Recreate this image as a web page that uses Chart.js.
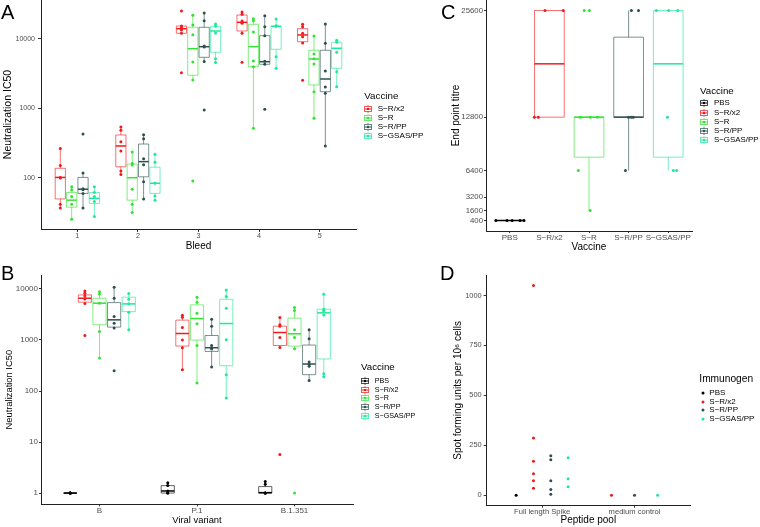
<!DOCTYPE html>
<html>
<head>
<meta charset="utf-8">
<script src="https://cdn.jsdelivr.net/npm/chart.js@4.4.1/dist/chart.umd.min.js"></script>
<style>
  body { margin: 0; width: 760px; height: 527px; background: #fff; position: relative; overflow: hidden;
         font-family: "Liberation Sans", Arial, sans-serif; }
  canvas { position: absolute; }
  .txt { position: absolute; white-space: nowrap; }
  .key { position: absolute; width: 8px; height: 8px; line-height: 0; }
  .key svg { display: block; }
</style>
</head>
<body>
<script>
// ============================================================
// Neutralisation / titres / ELISpot — 4 panneaux (A, B, C, D)
// ============================================================

// ---- Panel A : IC50 par prélèvement
const bleeds = ['1', '2', '3', '4', '5'];
const vaccinesA = ['S−R/x2', 'S−R', 'S−R/PP', 'S−GSAS/PP'];
// boîtes : [min, q1, médiane, q3, max] pour chaque bleed
const boxA_Rx2 = [[37, 50, 102, 138, 265], [112, 145, 289, 416, 542], [12080, 12080, 14070, 15380, 15380], [12080, 13040, 17380, 22130, 24460], [8760, 9140, 11420, 14070, 16270]];
const ptsA_Rx2 = [[265, 151, 102, 100, 42, 37], [542, 485, 333, 244, 126, 112], [25300, 15380, 14500, 13500, 12100, 3275], [24460, 22650, 18160, 16820, 12080, 4620], [16270, 15030, 12080, 10790, 8760, 2545]];
const boxA_R = [[25.5, 38, 48, 62, 75], [32, 48, 101, 159, 237], [2570, 3005, 7250, 14740, 21900], [519, 3995, 7750, 16270, 19600], [723, 2180, 5150, 6880, 11040]];
const ptsA_R = [[75, 68, 54, 42, 25.5], [237, 162, 154, 69, 42, 32], [21900, 15900, 11530, 4670, 2570, 90.6], [19600, 18330, 12610, 4830, 3995, 519], [11040, 6080, 5200, 4370, 1746, 723]];
const boxA_RPP = [[36.6, 60, 69, 102, 118], [50, 104, 172, 308, 420], [4750, 5450, 7750, 14740, 23650], [4325, 4325, 4712, 11160, 21640], [288, 1746, 2657, 6880, 16440]];
const ptsA_RPP = [[430, 118, 70, 68, 60, 37], [420, 367, 190, 155, 88, 50], [23650, 18330, 7900, 7700, 4750, 951], [21640, 15030, 11160, 4800, 4330, 974], [16440, 8670, 3464, 2039, 1655, 288]];
const boxA_GPP = [[27.7, 43, 51, 62, 75], [48, 60, 84, 143, 219], [4590, 6440, 13040, 15230, 16440], [3790, 7110, 15230, 15230, 19400], [2060, 3790, 7350, 8960, 9580]];
const ptsA_GPP = [[75, 62, 54, 46, 28], [219, 168, 84, 55, 48], [16440, 15230, 12200, 5210, 4590], [19400, 15500, 15230, 5560, 3790], [9580, 9000, 6440, 3385, 2060]];
const ticksA = [100, 1000, 10000];

// ---- Panel B : IC50 par variant
const variants = ['B', 'P.1', 'B.1.351'];
const vaccinesB = ['PBS', 'S−R/x2', 'S−R', 'S−R/PP', 'S−GSAS/PP'];
const boxB_PBS = [[1, 1, 1, 1, 1], [1, 1, 1.1, 1.4, 1.6], [1, 1, 1.02, 1.34, 1.68]];
const ptsB_PBS = [[1, 1, 1, 1, 1], [1.6, 1.4, 1.1, 1, 1], [1.68, 1.49, 1, 1, 1]];
const boxB_Rx2 = [[5160, 5500, 6580, 7640, 9140], [262, 760, 1339, 2449, 3064], [714, 781, 1401, 1868, 2750]];
const ptsB_Rx2 = [[9140, 8240, 7300, 6380, 5160, 1224], [3064, 2800, 1755, 995, 705, 262], [2750, 1981, 1868, 1119, 714, 5.7]];
const boxB_R = [[443, 1981, 5260, 6580, 8850], [144, 995, 2630, 4870, 6890], [673, 760, 1322, 2680, 4315]];
const ptsB_R = [[8850, 7990, 5260, 1466, 443], [6890, 5500, 3350, 2072, 781, 144], [4315, 3770, 1584, 1119, 673, 1]];
const boxB_RPP = [[1710, 1786, 2480, 5400, 10790], [296, 596, 705, 1224, 2560], [160, 209, 338, 795, 1584]];
const ptsB_RPP = [[10790, 6580, 2877, 2138, 1710, 250], [2560, 1868, 781, 705, 663, 296], [1584, 1055, 370, 330, 304, 160]];
const boxB_GPP = [[1584, 3600, 5090, 6890, 8094], [73, 313, 2100, 6290, 9560], [191, 424, 3400, 4014, 7880]];
const ptsB_GPP = [[8100, 6300, 5100, 3500, 1580], [9560, 7080, 4200, 1009, 209, 73], [7880, 4014, 3720, 3100, 219, 191]];
const ticksB = [1, 10, 100, 1000, 10000];

// ---- Panel C : titre en point final
const vaccinesC = ['PBS', 'S−R/x2', 'S−R', 'S−R/PP', 'S−GSAS/PP'];
const ticksC = [400, 1600, 3200, 6400, 12800, 25600];
const boxC = [[400, 400, 400, 400, 400], [12800, 12800, 19200, 25600, 25600], [1600, 8000, 12800, 12800, 12800], [6400, 12800, 12800, 22400, 25600], [6400, 8000, 19200, 25600, 25600]];
const ptsC = [[400, 400, 400, 400, 400], [25600, 25600, 12800, 12800], [25600, 25600, 12800, 12800, 12800, 6400, 1600], [25600, 25600, 12800, 12800, 12800, 6400], [25600, 25600, 25600, 12800, 6400, 6400]];
// décalage horizontal (jitter) des points, en unités de catégorie
const jitterC = [[-0.35, -0.07, 0.06, 0.26, 0.36], [-0.11, 0.35, -0.38, -0.28], [-0.12, 0.01, -0.22, 0.03, 0.21, -0.27, 0.03], [0.07, 0.25, 0, 0.07, 0.12, -0.08], [-0.3, 0.01, 0.24, -0.02, 0.13, 0.21]];

// ---- Panel D : ELISpot
const pools = ['Full length Spike', 'medium control'];
const immunogens = ['PBS', 'S−R/x2', 'S−R/PP', 'S−GSAS/PP'];
const sfuPBS = [[0], []];
const sfuRx2 = [[1050, 287, 170, 107, 73, 35], [0]];
const sfuRPP = [[197, 178, 73, 28, 5], [0]];
const sfuGPP = [[188, 82, 42], [0]];
const ticksD = [0, 250, 500, 750, 1000];

// ------------------------------------------------------------
const COL = {
  'PBS': '#000000',
  'S−R/x2': '#f01a1c',
  'S−R': '#33e333',
  'S−R/PP': '#2f4f4f',
  'S−GSAS/PP': '#1ee89a',
};
const TXT = '#4d4d4d';
Chart.defaults.font.family = '"Liberation Sans", Arial, sans-serif';

const rgba = (hex, a) => {
  const n = parseInt(hex.slice(1), 16);
  return `rgba(${n >> 16},${(n >> 8) & 255},${n & 255},${a})`;
};

// boîtes à moustaches dessinées via les échelles du graphique
const boxPlugin = {
  id: 'boxes',
  beforeDatasetsDraw(chart) {
    const { ctx, scales: { x, y } } = chart;
    ctx.save();
    for (const ds of chart.data.datasets) {
      for (const b of ds.boxes || []) {
        const [lo, q1, md, q3, hi] = b.s.map(v => y.getPixelForValue(v));
        const cx = x.getPixelForValue(b.x);
        const hw = x.getPixelForValue(b.x + b.w / 2) - cx;
        ctx.strokeStyle = ds.boxLine;
        ctx.lineWidth = 1;
        ctx.beginPath();
        ctx.moveTo(cx, q3); ctx.lineTo(cx, hi);
        ctx.moveTo(cx, q1); ctx.lineTo(cx, lo);
        ctx.rect(cx - hw, q3, 2 * hw, q1 - q3);
        ctx.stroke();
        ctx.strokeStyle = ds.backgroundColor;
        ctx.lineWidth = 1.5;
        ctx.beginPath();
        ctx.moveTo(cx - hw, md); ctx.lineTo(cx + hw, md);
        ctx.stroke();
      }
    }
    ctx.restore();
  },
};

function catAxis(labels, min, max, o) {
  return {
    type: 'linear', min, max,
    afterBuildTicks: s => { s.ticks = labels.map((_, i) => ({ value: i + 1 })); },
    afterFit: s => { s.height = o.h; },
    ticks: { callback: v => labels[v - 1], autoSkip: false, maxRotation: 0, padding: o.pad, font: { size: o.fs }, color: TXT },
    grid: { drawOnChartArea: false, tickLength: o.tl, color: '#333' },
    border: { color: '#222', width: 1 },
    title: { display: true, text: o.title, color: '#000', font: { size: o.tfs }, padding: 0 },
  };
}

function valAxis(type, min, max, ticks, o) {
  return {
    type, min, max,
    afterBuildTicks: s => { s.ticks = ticks.map(v => ({ value: v })); },
    afterFit: s => { s.width = o.w; },
    ticks: { callback: v => String(v), padding: o.pad, font: { size: o.fs }, color: TXT },
    grid: { drawOnChartArea: false, tickLength: o.tl, color: '#333' },
    border: { color: '#222', width: 1 },
    title: { display: true, text: o.title, color: '#000', font: { size: o.tfs }, padding: 0 },
  };
}

// un canvas par panneau, placé pour que la zone de tracé tombe sur `area`
function panel(area, yW, xH, scales, datasets) {
  const left = Math.floor(area.l - yW - 2), top = Math.floor(area.t - 10);
  const padding = { left: area.l - yW - left, top: area.t - top, right: 10, bottom: 2 };
  const cv = document.createElement('canvas');
  cv.width = Math.ceil(area.r + 10 - left);
  cv.height = Math.ceil(area.b + xH + 2 - top);
  cv.style.left = left + 'px';
  cv.style.top = top + 'px';
  document.body.appendChild(cv);
  return new Chart(cv, {
    type: 'scatter',
    data: { datasets },
    options: {
      responsive: false, animation: false, devicePixelRatio: 1,
      layout: { padding },
      plugins: { legend: { display: false }, tooltip: { enabled: false } },
      scales,
    },
    plugins: [boxPlugin],
  });
}

function pointSet(name, data, boxes) {
  const col = COL[name];
  return { label: name, data, boxes, backgroundColor: col, boxLine: rgba(col, 0.62),
           pointRadius: 1.5, pointBorderWidth: 0, pointHoverRadius: 1.5 };
}

// groupes décalés (position_dodge) avec boîtes
function dodgedSets(groups) {
  const n = groups.length, dw = 0.75 / n;
  return groups.map((g, k) => {
    const off = (k - (n - 1) / 2) * dw;
    const data = [], boxes = [];
    g.pts.forEach((vals, i) => vals.forEach(v => data.push({ x: i + 1 + off, y: v })));
    g.box.forEach((s, i) => boxes.push({ x: i + 1 + off, w: dw * 0.9, s }));
    return pointSet(g.name, data, boxes);
  });
}

// ---- textes HTML (lettres, légendes)
function addText(text, left, cy, size, color) {
  const d = document.createElement('div');
  d.className = 'txt';
  d.textContent = text;
  d.style.cssText = `left:${left}px;top:${cy - size}px;height:${2 * size}px;line-height:${2 * size}px;font-size:${size}px;color:${color || '#000'}`;
  document.body.appendChild(d);
}

function boxKey(col) {
  const l = rgba(col, 0.7);
  return `<svg width="8" height="8" viewBox="0 0 8 8"><path d="M4 0V1.5M4 6.5V8" stroke="${l}"/>` +
    `<rect x="0.5" y="1.5" width="7" height="5" fill="none" stroke="${l}"/>` +
    `<path d="M0.5 4H7.5" stroke="${col}"/><circle cx="4" cy="4" r="1.2" fill="${col}"/></svg>`;
}
function dotKey(col) {
  return `<svg width="8" height="8" viewBox="0 0 8 8"><circle cx="4" cy="4" r="1.5" fill="${col}"/></svg>`;
}

function legend(o) {
  addText(o.title, o.x, o.ty, o.tfs);
  o.names.forEach((nm, k) => {
    const cy = o.y0 + k * o.step;
    const s = document.createElement('div');
    s.className = 'key';
    s.style.left = o.kx + 'px';
    s.style.top = (cy - 4) + 'px';
    s.innerHTML = o.key(COL[nm]);
    document.body.appendChild(s);
    addText(nm, o.tx, cy, o.fs);
  });
}

// ============ Panel A
panel({ l: 41, t: 0, r: 355.6, b: 229 }, 39, 23, {
  x: catAxis(bleeds, 0.4, 5.6, { h: 23, pad: 0, tl: 3, fs: 7.2, title: 'Bleed', tfs: 10 }),
  y: valAxis('logarithmic', 18.46, 36390, ticksA, { w: 39, pad: 3, tl: 3, fs: 7, title: 'Neutralization IC50', tfs: 10.5 }),
}, dodgedSets([
  { name: vaccinesA[0], box: boxA_Rx2, pts: ptsA_Rx2 },
  { name: vaccinesA[1], box: boxA_R, pts: ptsA_R },
  { name: vaccinesA[2], box: boxA_RPP, pts: ptsA_RPP },
  { name: vaccinesA[3], box: boxA_GPP, pts: ptsA_GPP },
]));

// ============ Panel B
panel({ l: 41, t: 275, r: 352.2, b: 504 }, 37.4, 21.6, {
  x: catAxis(variants, 0.4, 3.6, { h: 21.6, pad: 0, tl: 2, fs: 8, title: 'Viral variant', tfs: 9.4 }),
  y: valAxis('logarithmic', 0.632, 18760, ticksB, { w: 37.4, pad: 1, tl: 2, fs: 8, title: 'Neutralization IC50', tfs: 9.4 }),
}, dodgedSets([
  { name: vaccinesB[0], box: boxB_PBS, pts: ptsB_PBS },
  { name: vaccinesB[1], box: boxB_Rx2, pts: ptsB_Rx2 },
  { name: vaccinesB[2], box: boxB_R, pts: ptsB_R },
  { name: vaccinesB[3], box: boxB_RPP, pts: ptsB_RPP },
  { name: vaccinesB[4], box: boxB_GPP, pts: ptsB_GPP },
]));

// ============ Panel C
panel({ l: 486, t: 0, r: 691.4, b: 231 }, 36.2, 22, {
  x: catAxis(vaccinesC, 0.4, 5.6, { h: 22, pad: 0, tl: 2, fs: 8, title: 'Vaccine', tfs: 10 }),
  y: valAxis('linear', -860, 26860, ticksC, { w: 36.2, pad: 1, tl: 2, fs: 7.8, title: 'End point titre', tfs: 10 }),
}, vaccinesC.map((nm, i) => pointSet(nm,
  ptsC[i].map((v, j) => ({ x: i + 1 + jitterC[i][j], y: v })),
  [{ x: i + 1, w: 0.75, s: boxC[i] }])));

// ============ Panel D
const groupsD = [
  { name: immunogens[0], vals: sfuPBS },
  { name: immunogens[1], vals: sfuRx2 },
  { name: immunogens[2], vals: sfuRPP },
  { name: immunogens[3], vals: sfuGPP },
];
const dataD = groupsD.map(() => []);
pools.forEach((p, i) => {
  const present = groupsD.filter(g => g.vals[i].length);
  const n = present.length;
  present.forEach((g, k) => {
    const off = (k - (n - 1) / 2) * 0.75 / n;
    g.vals[i].forEach(v => dataD[groupsD.indexOf(g)].push({ x: i + 1 + off, y: v }));
  });
});
panel({ l: 486.7, t: 275, r: 690, b: 505.7 }, 34.7, 20.3, {
  x: catAxis(pools, 0.4, 2.6, { h: 20.3, pad: 0, tl: 2, fs: 7.6, title: 'Peptide pool', tfs: 10 }),
  y: valAxis('linear', -52.5, 1102.5, ticksD, { w: 34.7, pad: 2, tl: 3, fs: 7.4, title: 'Spot forming units per 10⁶ cells', tfs: 10 }),
}, groupsD.map((g, k) => pointSet(g.name, dataD[k], [])));

// ============ lettres et légendes
addText('A', 1, 12.2, 20);
addText('B', 1, 273, 20);
addText('C', 441, 11.7, 20);
addText('D', 440, 272.5, 20);

legend({ title: 'Vaccine', x: 364.3, ty: 95.7, tfs: 9.8, names: vaccinesA, kx: 364, tx: 377.7, y0: 109.3, step: 8.9, fs: 8.1, key: boxKey });
legend({ title: 'Vaccine', x: 361, ty: 366.7, tfs: 9.7, names: vaccinesB, kx: 360.5, tx: 374.7, y0: 381, step: 8.7, fs: 7.2, key: boxKey });
legend({ title: 'Vaccine', x: 700, ty: 91, tfs: 9.7, names: vaccinesC, kx: 699.5, tx: 714, y0: 103.3, step: 9.2, fs: 7.9, key: boxKey });
legend({ title: 'Immunogen', x: 699.3, ty: 379, tfs: 10.2, names: immunogens, kx: 699.3, tx: 709.3, y0: 392.7, step: 8.8, fs: 8, key: dotKey });
</script>
</body>
</html>
